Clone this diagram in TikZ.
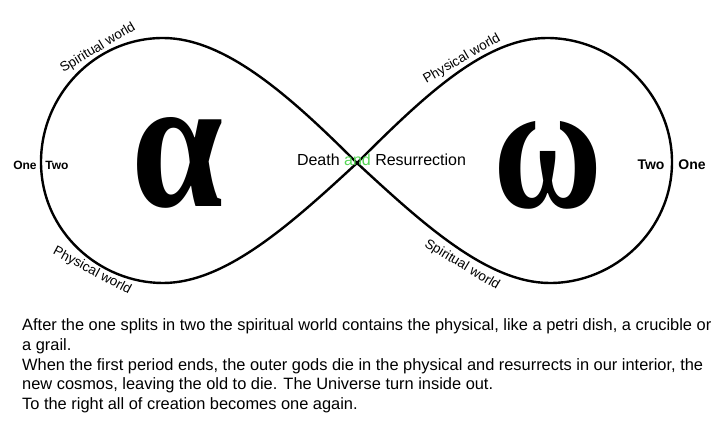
\documentclass[tikz,border=0pt]{standalone}
\usepackage{fontspec}
\setmainfont{Liberation Sans}
\newfontfamily\greekserif{Liberation Serif}
\definecolor{andgreen}{HTML}{55D655}
\begin{document}
\begin{tikzpicture}[x=1pt,y=-1pt,
  curve/.style={line width=2.4pt, line join=round, line cap=round},
  lab/.style={font=\fontsize{13.5}{15}\selectfont, inner sep=0pt},
  endlab/.style={font=\fontsize{12}{14}\selectfont\bfseries, inner sep=0pt},
  endlabr/.style={font=\fontsize{14}{16}\selectfont\bfseries, inner sep=0pt},
  glyph/.style={inner sep=0pt, font=\greekserif\bfseries},
  para/.style={font=\fontsize{16.4}{19.8}\selectfont, anchor=base west, inner sep=0pt}]
\useasboundingbox (0,0) rectangle (720,433);
\coordinate (C) at (357,163);
\coordinate (LT) at (163,38);
\coordinate (LL) at (41,162);
\coordinate (LB) at (163,283);
\coordinate (RT) at (547,38);
\coordinate (RR) at (672,162);
\coordinate (RB) at (550,283);
\draw[curve] (C) .. controls (290,96) and (225,38) .. (LT)
  .. controls (95,38) and (41,95) .. (LL)
  .. controls (41,232) and (100,283) .. (LB)
  .. controls (225,283) and (290,225) .. (C)
  .. controls (424,96) and (485,38) .. (RT)
  .. controls (615,38) and (672,95) .. (RR)
  .. controls (672,230) and (615,283) .. (RB)
  .. controls (488,283) and (424,225) .. (C);
\node[glyph] (alpha) at (178,162.5) {\resizebox{92pt}{89pt}{α}};
\node[glyph] (omega) at (548.5,165) {\resizebox{109pt}{86pt}{ω}};
\node[font=\fontsize{16}{18}\selectfont, inner sep=0pt] (dr) at (381.5,160) {Death \textcolor{andgreen}{and} Resurrection};
\node[lab, rotate=31] (sw1) at (98,48) {Spiritual world};
\node[lab, rotate=30] (pw1) at (462,59) {Physical world};
\node[lab, rotate=-28] (pw2) at (92,271) {Physical world};
\node[lab, rotate=-31] (sw2) at (462,265) {Spiritual world};
\node[endlab] (one1) at (25,165) {One};
\node[endlab] (two1) at (57,165) {Two};
\node[endlabr] (two2) at (651,165) {Two};
\node[endlabr] (one2) at (692,165) {One};
\node[para] (t1) at (22,330.5) {After the one splits in two the spiritual world contains the physical, like a petri dish, a crucible or};
\node[para] (t2) at (22,350.3) {a grail.};
\node[para] (t3) at (22,370.1) {When the first period ends, the outer gods die in the physical and resurrects in our interior, the};
\node[para] (t4) at (22,389.9) {new cosmos, leaving the old to die. The Universe turn inside out.};
\node[para] (t5) at (22,409.7) {To the right all of creation becomes one again.};
\end{tikzpicture}
\end{document}
